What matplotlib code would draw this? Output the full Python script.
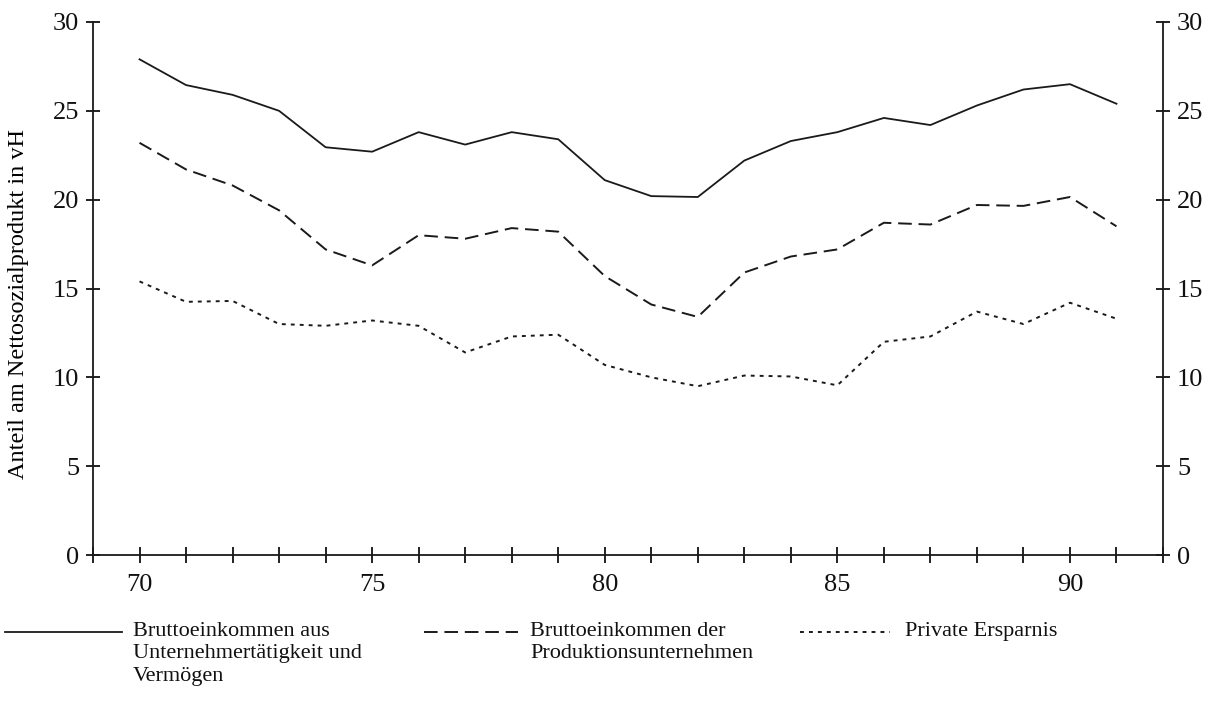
import matplotlib.pyplot as plt
from matplotlib.lines import Line2D
from matplotlib.ticker import MultipleLocator, FixedLocator

plt.rcParams['font.family'] = ['Liberation Serif', 'DejaVu Serif']
plt.rcParams['text.color'] = '#111111'
plt.rcParams['xtick.color'] = '#111111'
plt.rcParams['ytick.color'] = '#111111'

years = list(range(70, 92))

# Bruttoeinkommen aus Unternehmertaetigkeit und Vermoegen
unternehmer = [27.9, 26.45, 25.9, 25.0, 22.95, 22.7, 23.8, 23.1, 23.8, 23.4, 21.1,
               20.2, 20.15, 22.2, 23.3, 23.8, 24.6, 24.2, 25.3, 26.2, 26.5, 25.4]
# Bruttoeinkommen der Produktionsunternehmen
produktion = [23.2, 21.7, 20.8, 19.4, 17.2, 16.3, 18.0, 17.8, 18.4, 18.2, 15.7,
              14.1, 13.4, 15.9, 16.8, 17.2, 18.7, 18.6, 19.7, 19.65, 20.15, 18.5]
# Private Ersparnis
ersparnis = [15.4, 14.25, 14.3, 13.0, 12.9, 13.2, 12.9, 11.4, 12.3, 12.4, 10.7,
             10.0, 9.5, 10.1, 10.05, 9.55, 12.0, 12.3, 13.7, 13.0, 14.2, 13.3]

labels = ['Bruttoeinkommen aus\nUnternehmertätigkeit und\nVermögen',
          'Bruttoeinkommen der\nProduktionsunternehmen',
          'Private Ersparnis']

W, H = 1216, 717
fig = plt.figure(figsize=(12.16, 7.17), dpi=100)
ax = fig.add_axes([93 / W, 1 - 555 / H, (1163 - 93) / W, (555 - 22) / H])

dash = (0, (7, 3.5))
dot = (0, (2, 2.6))
ax.plot(years, unternehmer, color='#1a1a1a', lw=1.3, linestyle='-')
ax.plot(years, produktion, color='#1a1a1a', lw=1.4, linestyle=dash)
ax.plot(years, ersparnis, color='#1a1a1a', lw=1.4, linestyle=dot)

ax.set_xlim(69, 92)
ax.set_ylim(0, 30)
ax.spines['top'].set_visible(False)
for s in ['left', 'right', 'bottom']:
    ax.spines[s].set_linewidth(1.3)
    ax.spines[s].set_color('#1a1a1a')

ax.xaxis.set_major_locator(FixedLocator([70, 75, 80, 85, 90]))
ax.xaxis.set_minor_locator(MultipleLocator(1))
ax.yaxis.set_major_locator(MultipleLocator(5))

ax.tick_params(axis='y', which='major', direction='inout', length=10, width=1.3,
               labelsize=19, left=True, right=True, labelleft=True, labelright=True, pad=5)
ax.tick_params(axis='x', which='both', direction='inout', length=11, width=1.3,
               labelsize=19, pad=8)

ax.set_ylabel('Anteil am Nettosozialprodukt in vH', fontsize=17.5)
ax.yaxis.set_label_coords(-64 / (1163 - 93), (555 - 304) / (555 - 22))

# legend drawn below the axes: handle aligned with the first text line
legend_items = [
    ('-', 1.3, 5, 122, 133),
    (dash, 1.4, 424, 518, 530),
    (dot, 1.4, 800, 890, 905),
]
y_first = 632
for (ls, lw, x0, x1, xt), lab in zip(legend_items, labels):
    fig.add_artist(Line2D([x0 / W, x1 / W], [1 - y_first / H] * 2, color='#1a1a1a',
                          lw=lw, linestyle=ls, transform=fig.transFigure))
    fig.text(xt / W, 1 - (y_first - 10) / H, lab, fontsize=16, va='top', ha='left',
             linespacing=1.24)

fig.savefig('out.png', dpi=100)
